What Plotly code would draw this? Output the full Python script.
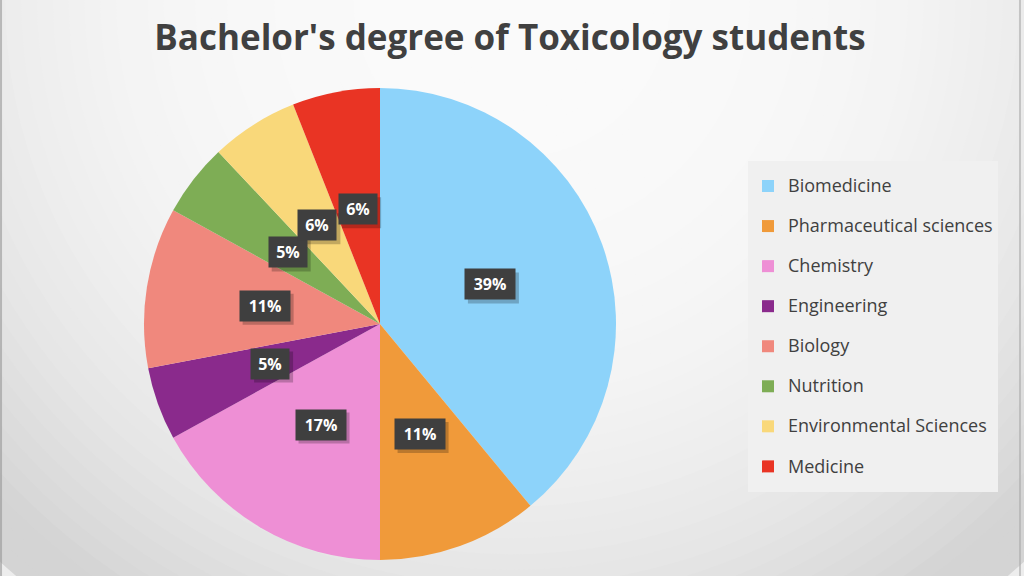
import math
import plotly.graph_objects as go

# ---- data ----
categories = ["Biomedicine", "Pharmaceutical sciences", "Chemistry", "Engineering",
              "Biology", "Nutrition", "Environmental Sciences", "Medicine"]
values = [39, 11, 17, 5, 11, 5, 6, 6]
label_texts = ["39%", "11%", "17%", "5%", "11%", "5%", "6%", "6%"]
colors = ["#8DD3FA", "#F09A3A", "#EE8FD5", "#8A2A8C", "#F0887D", "#7EAD55", "#F9D87A", "#E93424"]

W, H = 1024, 576
title_text = "Bachelor's degree of Toxicology students"
FONT = "Open Sans"

# pie placement (pixels)
PX0, PX1 = 144, 616
PY0, PY1 = 88, 560
cx, cy = (PX0 + PX1) / 2, (PY0 + PY1) / 2
R = (PX1 - PX0) / 2

fig = go.Figure()
fig.add_trace(go.Pie(
    labels=[f'<span style="font-size:18px;baseline-shift:5px">{c}</span>' for c in categories],
    values=values,
    sort=False,
    direction="clockwise",
    rotation=0,
    marker=dict(colors=colors, line=dict(width=0)),
    textinfo="none",
    hoverinfo="label+percent",
    domain=dict(x=[PX0 / W, PX1 / W], y=[1 - PY1 / H, 1 - PY0 / H]),
))

# background radial gradient (ellipse layers)
shapes = []
gx, gy = 512, 0
rmax = 760
N = 48
for i in range(N):
    r = rmax * (1 - i / N)
    t = min(r / 720, 1.0)
    g = int(round(250 - 38 * t ** 3))
    col = f"rgb({g},{g},{g})"
    shapes.append(dict(type="circle", xref="paper", yref="paper",
                       x0=(gx - r) / W, x1=(gx + r) / W,
                       y0=1 - (gy + r) / H, y1=1 - (gy - r) / H,
                       fillcolor=col, line=dict(width=0), layer="below"))
# thin edge lines
shapes.append(dict(type="line", xref="paper", yref="paper", x0=0.001, x1=0.001, y0=0, y1=1,
                   line=dict(color="rgba(150,150,150,0.6)", width=2), layer="below"))
shapes.append(dict(type="line", xref="paper", yref="paper", x0=1 - 4 / W, x1=1 - 4 / W, y0=0, y1=1,
                   line=dict(color="rgba(170,170,170,0.6)", width=2), layer="below"))

# data labels computed from cumulative values
annotations = []
total = sum(values)
cum = 0
for v, txt in zip(values, label_texts):
    mid = (cum + v / 2) / total * 2 * math.pi
    cum += v
    lx = cx + 0.495 * R * math.sin(mid)
    ly = cy - 0.495 * R * math.cos(mid)
    w = 38 if len(txt) > 2 else 26
    bw, bh = w + 12, 30
    # drop shadow
    shapes.append(dict(type="rect", xref="paper", yref="paper",
                       xsizemode="pixel", ysizemode="pixel",
                       xanchor=lx / W, yanchor=1 - ly / H,
                       x0=-bw / 2 + 3, x1=bw / 2 + 4, y0=-bh / 2 - 4, y1=bh / 2 - 3,
                       fillcolor="rgba(0,0,0,0.22)", line=dict(width=0), layer="above"))
    annotations.append(dict(text=txt, x=lx / W, y=1 - ly / H, xref="paper", yref="paper",
                            xanchor="center", yanchor="middle",
                            showarrow=False, width=w, height=18, borderpad=6,
                            bgcolor="#3F3F3F",
                            font=dict(family=FONT, size=16, color="white", weight="bold")))

fig.update_layout(
    width=W, height=H,
    margin=dict(l=0, r=0, t=0, b=0),
    paper_bgcolor="#EDEDED",
    title=dict(text=title_text, x=0.498, xanchor="center", y=1 - 38 / H, yanchor="middle",
               font=dict(family=FONT, size=35, color="#404040", weight="bold")),
    showlegend=True,
    legend=dict(x=748 / W, xanchor="left", y=1 - 161 / H, yanchor="top",
                bgcolor="#F0F0F0", font=dict(family=FONT, size=28.5, color="#404040"),
                traceorder="normal"),
    shapes=shapes,
    annotations=annotations,
)

fig.write_html("out.html", config={"displayModeBar": False},
               post_script="document.body.style.margin='0';document.body.style.overflow='hidden';")
